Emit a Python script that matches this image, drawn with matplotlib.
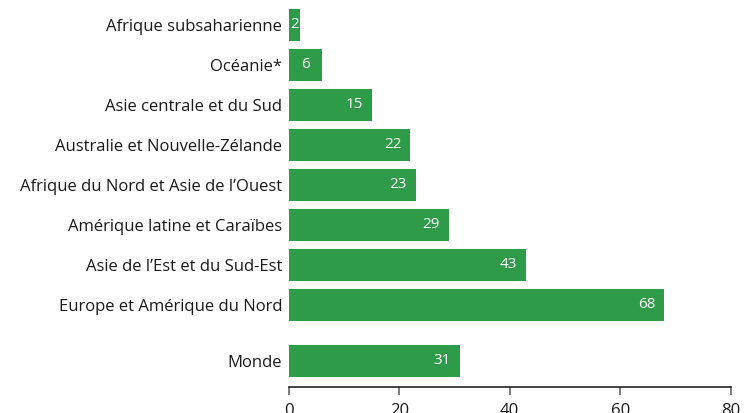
import matplotlib
matplotlib.use("Agg")
import matplotlib.pyplot as plt

regions = [
    "Afrique subsaharienne",
    "Océanie*",
    "Asie centrale et du Sud",
    "Australie et Nouvelle-Zélande",
    "Afrique du Nord et Asie de l\u2019Ouest",
    "Amérique latine et Caraïbes",
    "Asie de l\u2019Est et du Sud-Est",
    "Europe et Amérique du Nord",
]
region_values = [2, 6, 15, 22, 23, 29, 43, 68]
world_label = "Monde"
world_value = 31
x_ticks = [0, 20, 40, 60, 80]

GREEN = "#2e9b48"
TEXT = "#1a1a1a"

plt.rcParams["font.family"] = ["Open Sans", "DejaVu Sans"]

fig = plt.figure(figsize=(7.46, 4.13), dpi=100)
ax = fig.add_axes([289 / 746, 26 / 413, (730.5 - 289) / 746, 1 - 26 / 413])

labels = regions + [world_label]
values = region_values + [world_value]
positions = list(range(len(regions))) + [len(regions) + 0.4]

ax.barh(positions, values, height=0.8, color=GREEN)

# value labels inside the bars
for y, v in zip(positions, values):
    if v < 10:
        ax.text(v / 2, y, str(v), ha="center", va="center",
                color="white", fontsize=11)
    else:
        ax.annotate(str(v), (v, y), xytext=(-6.5, 0), textcoords="offset points",
                    ha="right", va="center", color="white", fontsize=11)

ax.set_xlim(0, 80)
ax.set_ylim(9.06, -0.6125)
ax.set_yticks(positions)
ax.set_yticklabels(labels, fontsize=12, color=TEXT)
ax.tick_params(axis="y", length=0, pad=5)
ax.set_xticks(x_ticks)
ax.tick_params(axis="x", direction="out", length=6, width=1.2,
               color="#666666", labelsize=12, labelcolor=TEXT, pad=5.5)

for side in ("top", "right", "left"):
    ax.spines[side].set_visible(False)
ax.spines["bottom"].set_color("#222222")
ax.spines["bottom"].set_linewidth(1.2)

fig.savefig("out.png", dpi=100)
